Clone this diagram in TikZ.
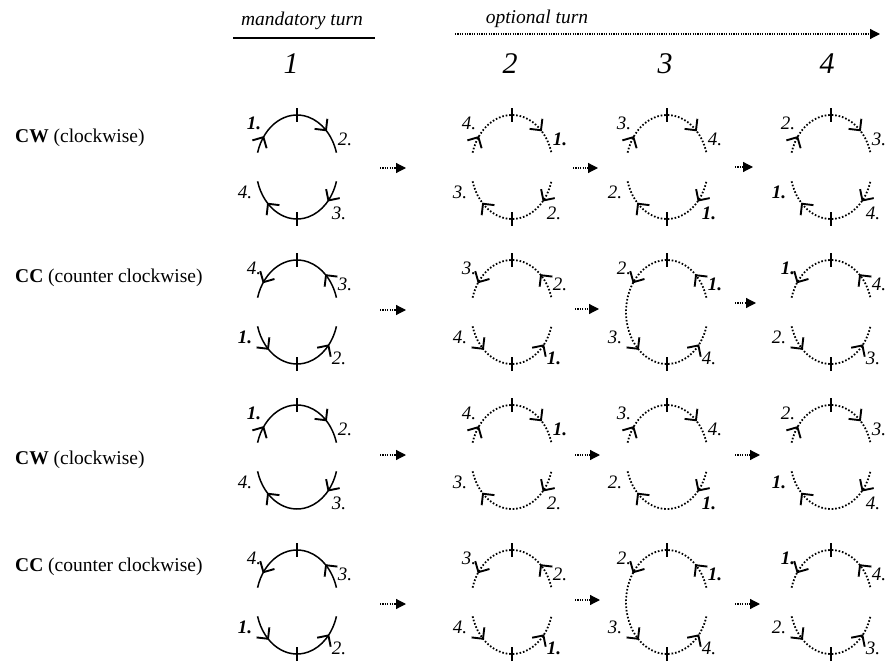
\documentclass[tikz,border=0pt]{standalone}
\usepackage{fontspec}
\setmainfont{Liberation Serif}
\usetikzlibrary{arrows.meta}
\tikzset{
 arcsolid/.style={line width=1.5pt},
 arcdot/.style={line width=1.8pt, dash pattern=on 1.6pt off 1.9pt},
 tickmark/.style={line width=2.2pt},
 chevron/.style={line width=1.9pt, solid, line join=miter},
 lab/.style={font=\fontsize{19}{19}\selectfont\itshape, inner sep=0pt},
 nextarrow/.style={line width=1.2pt, dash pattern=on 1.2pt off 1.2pt, -{Triangle[length=10pt,width=10pt]}},
 rowlab/.style={anchor=base west, inner sep=0pt, font=\fontsize{19.5}{19.5}\selectfont},
 colnum/.style={anchor=base, inner sep=0pt, font=\fontsize{30}{30}\selectfont\itshape},
 headtxt/.style={anchor=base, inner sep=0pt, font=\fontsize{19.5}{19.5}\selectfont\itshape},
 ell/.style={x radius=41, y radius=52},
}
\newcommand\cellarcs[4]{%
 \begin{scope}[shift={(#1,-#2)}]
  \ifcase#4
   \draw[#3] (164:41 and 52) arc[start angle=164,end angle=16,ell];
   \draw[#3] (196:41 and 52) arc[start angle=196,end angle=344,ell];
   \draw[tickmark] (0,45) -- (0,59);
   \draw[tickmark] (0,-59) -- (0,-45);
  \or
   \draw[#3] (164:41 and 52) arc[start angle=164,end angle=16,ell];
   \draw[#3] (196:41 and 52) arc[start angle=196,end angle=344,ell];
   \draw[tickmark] (0,45) -- (0,59);
  \or
   \draw[#3] (16:41 and 52) arc[start angle=16,end angle=344,ell];
   \draw[tickmark] (0,45) -- (0,59);
   \draw[tickmark] (0,-59) -- (0,-45);
  \fi
 \end{scope}}
\newcommand\chev[2]{%
 \pgfmathsetmacro\chang{atan2(52*cos(#1),-41*sin(#1))+#2}%
 \draw[chevron] (#1:41 and 52) ++(\chang+135:11.5) -- (#1:41 and 52) -- ++(\chang-135:11.5);}
\newcommand\cellarrows[3]{%
 \begin{scope}[shift={(#1,-#2)}]
  \chev{145}{#3}\chev{45}{#3}\chev{225}{#3}\chev{320}{#3}
 \end{scope}}
\newcommand\celllabels[7]{%
 \node[lab] (#3tl) at (#1-43,-#2+44) {#4};
 \node[lab] (#3tr) at (#1+48,-#2+28) {#5};
 \node[lab] (#3bl) at (#1-52,-#2-25) {#6};
 \node[lab] (#3br) at (#1+42,-#2-46) {#7};}
\begin{document}
\begin{tikzpicture}[x=1pt,y=1pt]
\useasboundingbox (0,0) rectangle (894,-663);
% header
\node[headtxt] (mand) at (302,-26) {mandatory turn};
\coordinate (ulA) at (233,-38);
\coordinate (ulB) at (375,-38);
\draw[line width=1.6pt] (ulA) -- (ulB);
\node[headtxt] (opt) at (537,-24) {optional turn};
\coordinate (oaA) at (455,-34);
\coordinate (oaB) at (880,-34);
\draw[nextarrow] (oaA) -- (oaB);
\node[colnum] (n1) at (291,-74) {1};
\node[colnum] (n2) at (510,-74) {2};
\node[colnum] (n3) at (665,-74) {3};
\node[colnum] (n4) at (827,-74) {4};
% row labels
\node[rowlab] (rl1) at (15,-143) {\textbf{CW} (clockwise)};
\node[rowlab] (rl2) at (15,-282) {\textbf{CC} (counter clockwise)};
\node[rowlab] (rl3) at (15,-464) {\textbf{CW} (clockwise)};
\node[rowlab] (rl4) at (15,-571) {\textbf{CC} (counter clockwise)};
% row 1 (CW)
\cellarcs{297}{167}{arcsolid}{0}\cellarrows{297}{167}{180}
\celllabels{297}{167}{aa}{\textbf{1.}}{2.}{4.}{3.}
\cellarcs{512}{167}{arcdot}{0}\cellarrows{512}{167}{180}
\celllabels{512}{167}{ab}{4.}{\textbf{1.}}{3.}{2.}
\cellarcs{667}{167}{arcdot}{0}\cellarrows{667}{167}{180}
\celllabels{667}{167}{ac}{3.}{4.}{2.}{\textbf{1.}}
\cellarcs{831}{167}{arcdot}{0}\cellarrows{831}{167}{180}
\celllabels{831}{167}{ad}{2.}{3.}{\textbf{1.}}{4.}
% row 2 (CC)
\cellarcs{297}{312}{arcsolid}{0}\cellarrows{297}{312}{0}
\celllabels{297}{312}{ba}{4.}{3.}{\textbf{1.}}{2.}
\cellarcs{512}{312}{arcdot}{0}\cellarrows{512}{312}{0}
\celllabels{512}{312}{bb}{3.}{2.}{4.}{\textbf{1.}}
\cellarcs{667}{312}{arcdot}{2}\cellarrows{667}{312}{0}
\celllabels{667}{312}{bc}{2.}{\textbf{1.}}{3.}{4.}
\cellarcs{831}{312}{arcdot}{0}\cellarrows{831}{312}{0}
\celllabels{831}{312}{bd}{\textbf{1.}}{4.}{2.}{3.}
% row 3 (CW)
\cellarcs{297}{457}{arcsolid}{1}\cellarrows{297}{457}{180}
\celllabels{297}{457}{ca}{\textbf{1.}}{2.}{4.}{3.}
\cellarcs{512}{457}{arcdot}{1}\cellarrows{512}{457}{180}
\celllabels{512}{457}{cb}{4.}{\textbf{1.}}{3.}{2.}
\cellarcs{667}{457}{arcdot}{1}\cellarrows{667}{457}{180}
\celllabels{667}{457}{cc}{3.}{4.}{2.}{\textbf{1.}}
\cellarcs{831}{457}{arcdot}{1}\cellarrows{831}{457}{180}
\celllabels{831}{457}{cd}{2.}{3.}{\textbf{1.}}{4.}
% row 4 (CC)
\cellarcs{297}{602}{arcsolid}{0}\cellarrows{297}{602}{0}
\celllabels{297}{602}{da}{4.}{3.}{\textbf{1.}}{2.}
\cellarcs{512}{602}{arcdot}{0}\cellarrows{512}{602}{0}
\celllabels{512}{602}{db}{3.}{2.}{4.}{\textbf{1.}}
\cellarcs{667}{602}{arcdot}{2}\cellarrows{667}{602}{0}
\celllabels{667}{602}{dc}{2.}{\textbf{1.}}{3.}{4.}
\cellarcs{831}{602}{arcdot}{0}\cellarrows{831}{602}{0}
\celllabels{831}{602}{dd}{\textbf{1.}}{4.}{2.}{3.}
% step arrows
\coordinate (s11) at (380,-168); \coordinate (e11) at (406,-168);
\coordinate (s12) at (573,-168); \coordinate (e12) at (598,-168);
\coordinate (s13) at (735,-167); \coordinate (e13) at (753,-167);
\coordinate (s21) at (380,-310); \coordinate (e21) at (406,-310);
\coordinate (s22) at (575,-309); \coordinate (e22) at (599,-309);
\coordinate (s23) at (735,-303); \coordinate (e23) at (756,-303);
\coordinate (s31) at (380,-455); \coordinate (e31) at (406,-455);
\coordinate (s32) at (575,-455); \coordinate (e32) at (600,-455);
\coordinate (s33) at (735,-455); \coordinate (e33) at (760,-455);
\coordinate (s41) at (380,-604); \coordinate (e41) at (406,-604);
\coordinate (s42) at (575,-600); \coordinate (e42) at (600,-600);
\coordinate (s43) at (735,-604); \coordinate (e43) at (760,-604);
\foreach \r in {1,2,3,4}{\foreach \c in {1,2,3}{\draw[nextarrow] (s\r\c) -- (e\r\c);}}
\end{tikzpicture}
\end{document}
